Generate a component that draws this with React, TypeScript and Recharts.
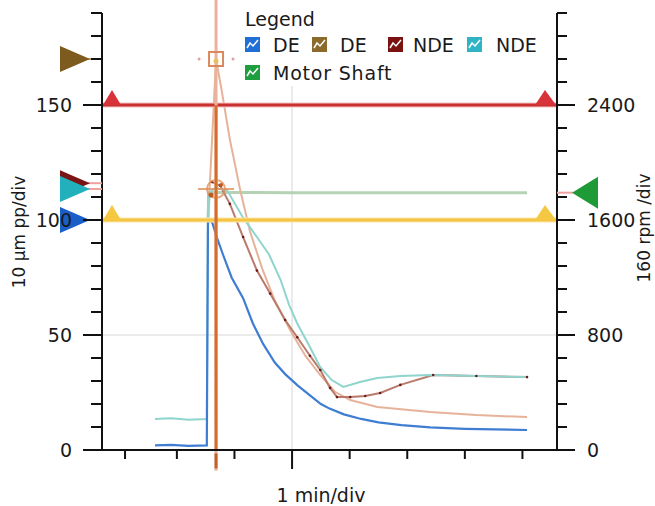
import React from 'react';
import { ComposedChart, Line, XAxis, YAxis, CartesianGrid, ReferenceLine, ReferenceDot } from 'recharts';

// ---- data (t = minutes relative to major division, value in axis units) ----
const deBlue: [number, number][] = [
  [-2.38, 2], [-2.1, 2.2], [-1.8, 1.8], [-1.48, 2], [-1.46, 99], [-1.4, 100], [-1.3, 92], [-1.2, 85],
  [-1.05, 75], [-0.85, 66], [-0.68, 55], [-0.5, 46], [-0.3, 38], [-0.12, 33], [0.1, 28], [0.3, 24],
  [0.5, 20], [0.65, 18], [0.9, 15.5], [1.2, 13.5], [1.5, 12], [1.9, 10.8], [2.4, 9.8], [3.0, 9.2], [4.08, 8.7],
];
const deBrown: [number, number][] = [
  [-1.46, 99], [-1.32, 170], [-1.22, 156], [-1.08, 135], [-0.9, 113], [-0.73, 95], [-0.52, 79],
  [-0.3, 65], [-0.03, 52], [0.23, 41], [0.49, 32.6], [0.75, 25.2], [1.01, 21.7], [1.48, 18.7],
  [2.4, 16.5], [3.2, 15.2], [4.08, 14.3],
];
const ndeRed: [number, number][] = [
  [-1.39, 116.5], [-1.25, 115], [-1.08, 107], [-0.85, 92.6], [-0.61, 78], [-0.38, 68], [-0.12, 56.5],
  [0.09, 49], [0.31, 41], [0.49, 34.8], [0.66, 27], [0.78, 23], [1.01, 23], [1.27, 23.5], [1.53, 24.8],
  [1.88, 28.3], [2.45, 32.6], [3.2, 32.2], [4.08, 31.7],
];
const ndeCyan: [number, number][] = [
  [-2.38, 13.5], [-2.1, 13.8], [-1.8, 13.2], [-1.48, 13.5], [-1.46, 111], [-1.34, 114], [-1.13, 113],
  [-0.85, 101], [-0.61, 92.6], [-0.4, 85], [-0.2, 74], [-0.05, 63], [0.09, 55], [0.31, 44.8], [0.49, 36],
  [0.69, 30.4], [0.89, 27.4], [1.18, 29.6], [1.48, 31.3], [1.88, 32.2], [2.4, 32.6], [4.08, 31.7],
];
const motorRpm: [number, number][] = [
  [-1.46, 1600], [-1.44, 1790], [-1.32, 1792], [0, 1790], [2, 1790], [4.08, 1790],
];

const cursorT = -1.32;
const cursorValues = { deBlue: 100, deBrown: 170, ndeRed: 116, ndeCyan: 113.5, motorRpm: 1790 };
const alarmLevels = [150, 100];

const xDomain: [number, number] = [-3.3, 4.6];
const xTicks = [-2.9, -2, -1, 0, 1, 2, 3, 4];
const leftTicks = Array.from({ length: 20 }, (_, i) => i * 10);
const leftLabeled = [0, 50, 100, 150];
const rightTicks = Array.from({ length: 20 }, (_, i) => i * 160);
const rightLabeled = [0, 800, 1600, 2400];

const toRows = (arr: [number, number][]) => arr.map(([t, v]) => ({ t, v }));

const FONT = '"DejaVu Sans", Verdana, sans-serif';
const TXT = '#1a1a1a';

const LeftTick = (p: any) => {
  const { x, y, payload } = p;
  const major = leftLabeled.includes(payload.value);
  return (
    <g>
      <line x1={x - (major ? 19 : 11)} x2={x} y1={y} y2={y} stroke="#111" strokeWidth={2} />
      {major && (
        <text x={x - 30} y={y} dy={7} textAnchor="end" fontSize={19} fontFamily={FONT} fill={TXT}>
          {payload.value}
        </text>
      )}
    </g>
  );
};

const RightTick = (p: any) => {
  const { x, y, payload } = p;
  const major = rightLabeled.includes(payload.value);
  return (
    <g>
      <line x1={x} x2={x + (major ? 18 : 10)} y1={y} y2={y} stroke="#111" strokeWidth={2} />
      {major && (
        <text x={x + 30} y={y} dy={7} textAnchor="start" fontSize={19} fontFamily={FONT} fill={TXT}>
          {payload.value}
        </text>
      )}
    </g>
  );
};

const BottomTick = (p: any) => {
  const { x, y, payload } = p;
  const major = payload.value === 0;
  return <line x1={x} x2={x} y1={y + 1} y2={y + (major ? 19 : 9)} stroke="#111" strokeWidth={2} />;
};

const leftMarker = (color: string, lineColor: string) => (p: any) => {
  const { cx, cy } = p;
  return (
    <g>
      <line x1={cx - 14} x2={cx} y1={cy} y2={cy} stroke={lineColor} strokeWidth={2} />
      <polygon points={`${cx - 42},${cy - 13} ${cx - 12},${cy} ${cx - 42},${cy + 13}`} fill={color} />
    </g>
  );
};

const rightMarker = (color: string) => (p: any) => {
  const { cx, cy } = p;
  return (
    <g>
      <line x1={cx} x2={cx + 16} y1={cy} y2={cy} stroke="#f0a0a0" strokeWidth={2} />
      <polygon points={`${cx + 41},${cy - 16} ${cx + 15},${cy} ${cx + 41},${cy + 16}`} fill={color} />
    </g>
  );
};

const alarmTriLeft = (color: string) => (p: any) => {
  const { cx, cy } = p;
  return <polygon points={`${cx + 1},${cy} ${cx + 10},${cy - 15} ${cx + 19},${cy}`} fill={color} />;
};
const alarmTriRight = (color: string) => (p: any) => {
  const { cx, cy } = p;
  return <polygon points={`${cx - 22},${cy} ${cx - 12},${cy - 15} ${cx - 1},${cy}`} fill={color} />;
};

const PeakSquare = (p: any) => {
  const { cx, cy } = p;
  return (
    <g>
      <rect x={cx - 7} y={cy - 7} width={14} height={14} fill="none" stroke="#d88a5c" strokeWidth={2} />
      <circle cx={cx} cy={cy + 2} r={2.5} fill="#e8c060" />
      <circle cx={cx - 17} cy={cy} r={1.5} fill="#e0a0a0" />
      <circle cx={cx + 17} cy={cy} r={1.5} fill="#e0a0a0" />
    </g>
  );
};

const CrossMarker = (p: any) => {
  const { cx, cy } = p;
  return (
    <g>
      <circle cx={cx} cy={cy} r={9} fill="none" stroke="#e0905a" strokeWidth={2} opacity={0.8} />
      <line x1={cx - 18} x2={cx + 18} y1={cy} y2={cy} stroke="#e0905a" strokeWidth={2} opacity={0.8} />
      <line x1={cx} x2={cx} y1={cy - 14} y2={cy + 14} stroke="#d0702a" strokeWidth={2} />
      <circle cx={cx - 5} cy={cy + 6} r={2.5} fill="#c05a20" />
      <circle cx={cx + 5} cy={cy - 4} r={2} fill="#c05a20" />
    </g>
  );
};

const Icon = ({ x, y, color }: { x: number; y: number; color: string }) => (
  <g>
    <rect x={x} y={y} width={15} height={15} fill={color} />
    <polyline
      points={`${x + 2},${y + 11} ${x + 5},${y + 6} ${x + 8},${y + 9} ${x + 13},${y + 3}`}
      fill="none"
      stroke="#fff"
      strokeWidth={1.5}
    />
  </g>
);

const legendRow1 = [
  { label: 'DE', color: '#1f6fd6', icon: 245, text: 273 },
  { label: 'DE', color: '#8b6a2b', icon: 312, text: 340 },
  { label: 'NDE', color: '#7a1212', icon: 388, text: 413 },
  { label: 'NDE', color: '#2fb4c6', icon: 467, text: 496 },
];
const legendRow2 = [{ label: 'Motor Shaft', color: '#1e9e3e', icon: 245, text: 273 }];

export default function App() {
  return (
    <div style={{ position: 'absolute', left: 0, top: 0, width: 655, height: 506, background: '#fff' }}>
      <ComposedChart width={655} height={506} margin={{ top: 13, right: 0, bottom: 0, left: 0 }}>
        <CartesianGrid
          yAxisId="left"
          stroke="#e4e4e4"
          strokeWidth={1.5}
          horizontalValues={[50, 100, 150]}
          verticalValues={[0]}
        />
        <XAxis
          dataKey="t"
          type="number"
          domain={xDomain}
          allowDataOverflow
          ticks={xTicks}
          interval={0}
          height={56}
          tickLine={false}
          tickSize={0}
          tickMargin={0}
          tick={<BottomTick />}
          axisLine={{ stroke: '#111', strokeWidth: 2 }}
        />
        <YAxis
          yAxisId="left"
          orientation="left"
          width={102}
          domain={[0, 190]}
          allowDataOverflow
          ticks={leftTicks}
          interval={0}
          tickLine={false}
          tickSize={0}
          tickMargin={0}
          tick={<LeftTick />}
          axisLine={{ stroke: '#111', strokeWidth: 2 }}
        />
        <YAxis
          yAxisId="right"
          orientation="right"
          width={98}
          domain={[0, 3040]}
          allowDataOverflow
          ticks={rightTicks}
          interval={0}
          tickLine={false}
          tickSize={0}
          tickMargin={0}
          tick={<RightTick />}
          axisLine={{ stroke: '#111', strokeWidth: 2 }}
        />

        <Line yAxisId="right" data={toRows(motorRpm)} dataKey="v" stroke="#b5d2b5" strokeWidth={3} dot={false} isAnimationActive={false} />
        <Line yAxisId="left" data={toRows(deBrown)} dataKey="v" stroke="#e6b39a" strokeWidth={2} dot={false} isAnimationActive={false} />
        <Line yAxisId="left" data={toRows(ndeRed)} dataKey="v" stroke="#b97a6c" strokeWidth={2} dot={{ r: 1.3, fill: '#6b1a1a', stroke: 'none' }} isAnimationActive={false} />
        <Line yAxisId="left" data={toRows(ndeCyan)} dataKey="v" stroke="#8fd5cd" strokeWidth={2} dot={false} isAnimationActive={false} />
        <Line yAxisId="left" data={toRows(deBlue)} dataKey="v" stroke="#3f7dd3" strokeWidth={2.2} dot={false} isAnimationActive={false} />

        <ReferenceLine yAxisId="left" y={alarmLevels[0]} stroke="#f6c4c4" strokeWidth={5} />
        <ReferenceLine yAxisId="left" y={alarmLevels[0]} stroke="#c8312f" strokeWidth={3} />
        <ReferenceLine yAxisId="left" y={alarmLevels[1]} stroke="#fce6a8" strokeWidth={5} />
        <ReferenceLine yAxisId="left" y={alarmLevels[1]} stroke="#f5c542" strokeWidth={3} />

        <ReferenceLine yAxisId="left" ifOverflow="visible" segment={[{ x: cursorT, y: -9 }, { x: cursorT, y: 196 }]} stroke="#eab29c" strokeWidth={3} />
        <ReferenceLine yAxisId="left" ifOverflow="visible" segment={[{ x: cursorT, y: 0 }, { x: cursorT, y: 150 }]} stroke="#d56c2c" strokeWidth={3} />
        <ReferenceLine yAxisId="left" ifOverflow="visible" segment={[{ x: cursorT, y: -1.5 }, { x: cursorT, y: -8 }]} stroke="#c0622a" strokeWidth={3} />

        <ReferenceDot yAxisId="left" x={cursorT} y={cursorValues.deBrown} ifOverflow="visible" shape={PeakSquare} />
        <ReferenceDot yAxisId="left" x={cursorT} y={cursorValues.ndeCyan} ifOverflow="visible" shape={CrossMarker} />

        <ReferenceDot yAxisId="left" x={xDomain[0]} y={alarmLevels[0]} ifOverflow="visible" shape={alarmTriLeft('#d8323a')} />
        <ReferenceDot yAxisId="left" x={xDomain[1]} y={alarmLevels[0]} ifOverflow="visible" shape={alarmTriRight('#d8323a')} />
        <ReferenceDot yAxisId="left" x={xDomain[0]} y={alarmLevels[1]} ifOverflow="visible" shape={alarmTriLeft('#f5c842')} />
        <ReferenceDot yAxisId="left" x={xDomain[1]} y={alarmLevels[1]} ifOverflow="visible" shape={alarmTriRight('#f5c842')} />

        <ReferenceDot yAxisId="left" x={xDomain[0]} y={cursorValues.deBrown} ifOverflow="visible" shape={leftMarker('#7d5a1e', '#c9a070')} />
        <ReferenceDot yAxisId="left" x={xDomain[0]} y={cursorValues.ndeRed} ifOverflow="visible" shape={leftMarker('#7a1515', '#f0a0a0')} />
        <ReferenceDot yAxisId="left" x={xDomain[0]} y={cursorValues.ndeCyan} ifOverflow="visible" shape={leftMarker('#22b0bd', '#f0a0a0')} />
        <ReferenceDot yAxisId="left" x={xDomain[0]} y={cursorValues.deBlue} ifOverflow="visible" shape={leftMarker('#1a5fc8', '#1a4fa8')} />
        <ReferenceDot yAxisId="right" x={xDomain[1]} y={cursorValues.motorRpm} ifOverflow="visible" shape={rightMarker('#1e9a36')} />
      </ComposedChart>

      <svg width={655} height={506} style={{ position: 'absolute', left: 0, top: 0, pointerEvents: 'none' }}>
        <rect x={240} y={0} width={306} height={86} fill="#fff" />
        <text x={245} y={26} fontSize={19} fontFamily={FONT} fill={TXT}>Legend</text>
        {legendRow1.map((it, i) => (
          <g key={i}>
            <Icon x={it.icon} y={37} color={it.color} />
            <text x={it.text} y={52} fontSize={19} fontFamily={FONT} fill={TXT}>{it.label}</text>
          </g>
        ))}
        {legendRow2.map((it, i) => (
          <g key={i}>
            <Icon x={it.icon} y={65} color={it.color} />
            <text x={it.text} y={80} fontSize={19} fontFamily={FONT} fill={TXT} letterSpacing={0.8}>{it.label}</text>
          </g>
        ))}
        <text x={321} y={502} textAnchor="middle" fontSize={19} fontFamily={FONT} fill={TXT}>1 min/div</text>
        <text x={25} y={232} textAnchor="middle" fontSize={17} fontFamily={FONT} fill={TXT} transform="rotate(-90 25 232)">10 µm pp/div</text>
        <text x={650} y={228} textAnchor="middle" fontSize={17} fontFamily={FONT} fill={TXT} transform="rotate(-90 650 228)">160 rpm /div</text>
      </svg>
    </div>
  );
}
